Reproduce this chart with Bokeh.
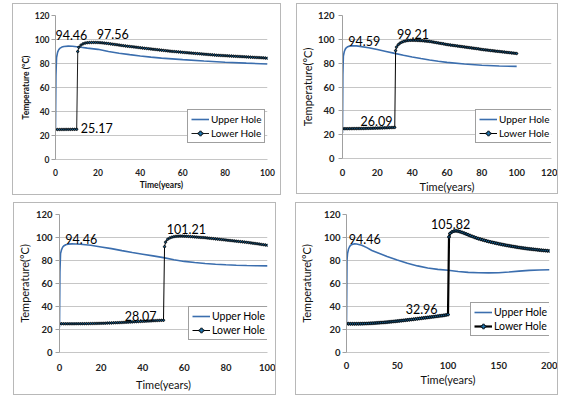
from bokeh.plotting import figure
from bokeh.models import Range1d, SingleIntervalTicker, Legend, LegendItem, Spacer
from bokeh.layouts import row, column
from bokeh.embed import file_html
from bokeh.resources import INLINE
from bokeh.core.properties import value

# ---------------- data ----------------
# Panel 1 (lower hole switched on at ~10 years)
p1_up_x = [0, 0.2, 0.5, 1, 1.5, 2, 3, 4, 6, 8, 10, 12, 15, 20, 25, 30, 35, 40, 45, 50, 60, 70, 80, 90, 100]
p1_up_y = [25, 70, 85, 89.5, 91.5, 92.6, 93.7, 94.2, 94.46, 94.4, 94.0, 93.5, 92.8, 91.8, 90.0, 88.6, 87.4, 86.3, 85.3, 84.5, 83.2, 82.1, 81.1, 80.3, 79.6]
p1_lo_x = list(range(0, 11)) + [10.5] + list(range(11, 101))
p1_lo_y = [25.0, 25.0, 25.0, 25.05, 25.05, 25.1, 25.1, 25.1, 25.15, 25.15, 25.17,
           90.0,
           93.5, 95.3, 96.4, 97.0, 97.3, 97.45, 97.52, 97.56, 97.55, 97.5,
           97.35, 97.2, 97.0, 96.8, 96.6, 96.35, 96.1, 95.85, 95.6, 95.35,
           95.1, 94.85, 94.6, 94.4, 94.2, 94.0, 93.8, 93.6, 93.35, 93.1,
           92.9, 92.7, 92.5, 92.3, 92.1, 91.9, 91.7, 91.5, 91.3, 91.1,
           90.9, 90.7, 90.5, 90.3, 90.1, 89.95, 89.8, 89.65, 89.5, 89.3,
           89.15, 89.0, 88.85, 88.7, 88.55, 88.4, 88.25, 88.1, 87.95, 87.8,
           87.65, 87.5, 87.35, 87.2, 87.05, 86.9, 86.8, 86.7, 86.6, 86.5,
           86.4, 86.3, 86.2, 86.1, 86.0, 85.9, 85.8, 85.7, 85.6, 85.5,
           85.4, 85.3, 85.2, 85.1, 85.0, 84.9, 84.8, 84.7, 84.55, 84.4]
p1_lab_x = [7.5, 27, 19.5]
p1_lab_y = [104, 105, 26]
p1_lab_t = ["94.46", "97.56", "25.17"]

# Panel 2 (lower hole switched on at ~30 years)
p2_up_x = [0, 0.2, 0.5, 1, 1.5, 2, 3, 4, 6, 8, 10, 15, 20, 25, 30, 35, 40, 45, 50, 55, 60, 70, 80, 90, 100]
p2_up_y = [21.5, 70, 86, 89.5, 91.5, 92.7, 93.8, 94.3, 94.59, 94.5, 94.1, 92.9, 91.4, 89.8, 88.2, 86.6, 85.2, 83.9, 82.7, 81.6, 80.7, 79.3, 78.3, 77.6, 77.3]
p2_lo_x = list(range(0, 31)) + [30.5] + list(range(31, 101))
p2_lo_y = [25.0, 25.0, 25.0, 25.0, 25.05, 25.05, 25.1, 25.1, 25.1, 25.15, 25.15,
           25.2, 25.2, 25.25, 25.3, 25.3, 25.35, 25.4, 25.45, 25.5, 25.5,
           25.55, 25.6, 25.65, 25.7, 25.75, 25.8, 25.85, 25.95, 26.0, 26.09,
           90.5,
           93.5, 95.5, 96.8, 97.6, 98.2, 98.6, 98.9, 99.1, 99.2, 99.21,
           99.2, 99.15, 99.1, 99.0, 98.9, 98.8, 98.65, 98.5, 98.35, 98.2,
           97.95, 97.7, 97.45, 97.2, 96.95, 96.7, 96.45, 96.2, 95.9, 95.6,
           95.4, 95.2, 95.0, 94.8, 94.6, 94.4, 94.2, 94.0, 93.8, 93.6,
           93.4, 93.2, 93.0, 92.8, 92.6, 92.4, 92.2, 92.0, 91.75, 91.5,
           91.3, 91.15, 91.0, 90.8, 90.6, 90.45, 90.3, 90.1, 89.95, 89.8,
           89.6, 89.45, 89.3, 89.1, 88.95, 88.8, 88.6, 88.45, 88.3, 88.1]
p2_lab_x = [12.5, 40.5, 19.5]
p2_lab_y = [98.5, 104.5, 31.5]
p2_lab_t = ["94.59", "99.21", "26.09"]

# Panel 3 (lower hole switched on at ~50 years)
p3_up_x = [0, 0.2, 0.5, 1, 1.5, 2, 3, 4, 6, 8, 10, 15, 20, 25, 30, 35, 40, 45, 50, 55, 60, 65, 70, 75, 80, 85, 90, 95, 100]
p3_up_y = [22, 70, 86, 89.5, 91.5, 92.6, 93.7, 94.2, 94.46, 94.4, 94.1, 93.2, 91.8, 90.3, 88.6, 87.0, 85.5, 84.0, 82.5, 80.6, 79.2, 78.2, 77.4, 76.8, 76.3, 75.9, 75.6, 75.4, 75.3]
p3_lo_x = list(range(0, 51)) + [50.5] + list(range(51, 101))
p3_lo_y = [25.0, 25.0, 24.95, 24.95, 24.95, 24.95, 24.95, 24.95, 25.0, 25.0, 25.0,
           25.05, 25.05, 25.1, 25.1, 25.15, 25.2, 25.25, 25.3, 25.35, 25.4,
           25.45, 25.5, 25.6, 25.65, 25.7, 25.8, 25.85, 25.95, 26.0, 26.1,
           26.2, 26.3, 26.4, 26.5, 26.6, 26.7, 26.8, 26.9, 27.0, 27.1,
           27.2, 27.3, 27.4, 27.5, 27.6, 27.7, 27.8, 27.9, 28.0, 28.07,
           92.0,
           96.0, 98.5, 99.6, 100.3, 100.7, 101.0, 101.15, 101.21, 101.2, 101.15,
           101.05, 100.95, 100.8, 100.65, 100.5, 100.35, 100.2, 100.05, 99.95, 99.8,
           99.6, 99.4, 99.2, 99.0, 98.8, 98.6, 98.4, 98.2, 98.0, 97.8,
           97.6, 97.4, 97.2, 97.0, 96.8, 96.6, 96.4, 96.2, 96.0, 95.8,
           95.55, 95.3, 95.05, 94.8, 94.55, 94.3, 94.0, 93.75, 93.5, 93.2]
p3_lab_x = [10.5, 61, 39]
p3_lab_y = [99, 107.5, 32]
p3_lab_t = ["94.46", "101.21", "28.07"]

# Panel 4 (lower hole switched on at ~100 years, 200-year run)
p4_up_x = [0, 0.5, 1, 2, 3, 4, 6, 8, 10, 15, 20, 25, 30, 40, 50, 60, 70, 80, 90, 100, 110, 120, 130, 140, 150, 160, 170, 180, 190, 200]
p4_up_y = [24, 80, 86, 90, 92, 93.3, 94.2, 94.46, 94.3, 93.2, 91.2, 88.7, 87.0, 83.5, 80.4, 77.6, 75.3, 73.5, 72.3, 71.5, 70.5, 69.7, 69.3, 69.2, 69.4, 70.0, 70.8, 71.4, 71.8, 72.0]
p4_lo_x = list(range(0, 101, 2)) + [101] + list(range(102, 201, 2))
p4_lo_y = [25.0, 25.0, 24.95, 24.95, 24.95, 25.0, 25.0, 25.05, 25.1, 25.15, 25.2,
           25.3, 25.4, 25.5, 25.6, 25.75, 25.85, 26.0, 26.1, 26.25, 26.4,
           26.6, 26.75, 26.95, 27.1, 27.3, 27.5, 27.7, 27.9, 28.1, 28.3,
           28.5, 28.7, 28.9, 29.15, 29.35, 29.6, 29.8, 30.05, 30.25, 30.5,
           30.7, 30.95, 31.15, 31.4, 31.6, 31.85, 32.05, 32.3, 32.6, 32.96,
           100.5,
           103.5, 104.9, 105.6, 105.82,
           105.5, 105.0, 104.4, 103.7, 103.0, 102.3, 101.6, 100.9, 100.2, 99.6,
           99.0, 98.5, 98.0, 97.5, 97.0, 96.5, 96.1, 95.7, 95.3, 94.9,
           94.5, 94.15, 93.8, 93.45, 93.1, 92.8, 92.5, 92.2, 91.9, 91.6,
           91.3, 91.05, 90.8, 90.55, 90.3, 90.1, 89.9, 89.7, 89.5, 89.3,
           89.1, 88.9, 88.75, 88.6, 88.45, 88.3]
p4_lab_x = [18, 102.5, 74]
p4_lab_y = [98.5, 112, 37.5]
p4_lab_t = ["94.46", "105.82", "32.96"]

series_names = ["Upper Hole", "Lower Hole"]

# ---------------- style ----------------
FONT = "Lato"
BLUE = "#3b6eae"
GRID = "#c6c6c6"
BORDER = "#b8b8b8"


def make_panel(width, height, mb, xmax, xstep, up_x, up_y, lo_x, lo_y,
               lab_x, lab_y, lab_t, leg_xy, small, ylabel, lo_w, mk, leg_fs,
               xs, ys):
    p = figure(width=width, height=height, x_range=Range1d(0, xmax), y_range=Range1d(0, 120),
               output_backend="svg", toolbar_location=None,
               min_border_left=mb[0], min_border_right=mb[1], min_border_top=mb[2], min_border_bottom=mb[3])
    p.styles = {"border": "1px solid " + BORDER}
    p.outline_line_color = None
    p.background_fill_color = "white"
    p.border_fill_color = "white"
    p.xgrid.visible = False
    p.ygrid.grid_line_color = GRID
    p.ygrid.grid_line_width = 1

    p.xaxis.ticker = SingleIntervalTicker(interval=xstep)
    p.yaxis.ticker = SingleIntervalTicker(interval=20)
    p.xaxis.minor_tick_line_color = None
    p.yaxis.minor_tick_line_color = None
    p.xaxis.major_tick_line_color = None
    p.xaxis.major_tick_out = 0
    p.xaxis.major_tick_in = 0
    p.yaxis.major_tick_line_color = "#a0a0a0"
    p.yaxis.major_tick_out = 4
    p.yaxis.major_tick_in = 0
    p.xaxis.axis_line_color = GRID
    p.yaxis.axis_line_color = "#a0a0a0"

    tick_fs = "8.5px" if small else "9.5px"
    lab_fs = "8.5px" if small else "11px"
    lab_style = "bold" if small else "normal"
    for ax in (p.xaxis, p.yaxis):
        ax.major_label_text_font = FONT
        ax.major_label_text_font_size = tick_fs
        ax.major_label_text_font_style = "bold"
        ax.major_label_text_color = "#222222"
        ax.axis_label_text_font = FONT
        ax.axis_label_text_font_size = lab_fs
        ax.axis_label_text_font_style = lab_style
        ax.axis_label_text_color = "#111111"
    p.xaxis.axis_label = "Time(years)"
    p.yaxis.axis_label = ylabel
    p.xaxis.major_label_standoff = xs[0]
    p.xaxis.axis_label_standoff = xs[1]
    p.yaxis.major_label_standoff = ys[0]
    p.yaxis.axis_label_standoff = ys[1]

    r_up = p.line(up_x, up_y, line_color=BLUE, line_width=1.6)
    r_lo = p.line(lo_x, lo_y, line_color="black", line_width=lo_w)
    r_lo_m = p.scatter(lo_x, lo_y, marker="plus", size=mk, line_color="black", line_width=0.7)

    p.text(x=lab_x, y=lab_y, text=lab_t, text_font=value(FONT), text_font_size="12.5px",
           text_align="center", text_baseline="alphabetic", text_color="black")

    leg = Legend(items=[LegendItem(label=series_names[0], renderers=[r_up]),
                        LegendItem(label=series_names[1], renderers=[r_lo, r_lo_m])],
                 location=leg_xy)
    leg.label_text_font = FONT
    leg.label_text_font_size = leg_fs
    leg.label_text_color = "black"
    leg.glyph_width = 18
    leg.glyph_height = 12
    leg.label_height = 12
    leg.label_standoff = 2
    leg.padding = 3
    leg.spacing = 2
    leg.margin = 0
    leg.border_line_color = "#404040"
    leg.border_line_width = 1
    leg.background_fill_color = "white"
    leg.background_fill_alpha = 1
    p.add_layout(leg, "center")
    return p


p1 = make_panel(269, 192, (42, 15, 11, 35), 100, 20, p1_up_x, p1_up_y, p1_lo_x, p1_lo_y,
                p1_lab_x, p1_lab_y, p1_lab_t, (132, 16), True, "Temperature (°C)", 0.9, 2.5, "10px",
                (5, 1), (2, 1))
p2 = make_panel(262, 191, (43, 8, 11, 36), 120, 20, p2_up_x, p2_up_y, p2_lo_x, p2_lo_y,
                p2_lab_x, p2_lab_y, p2_lab_t, (133, 15), False, "Temperature(°C)", 1.0, 2.5, "10px",
                (6, 1), (4, 1))
p3 = make_panel(263, 193, (43, 10, 11, 44), 100, 20, p3_up_x, p3_up_y, p3_lo_x, p3_lo_y,
                p3_lab_x, p3_lab_y, p3_lab_t, (129, 12), False, "Temperature(°C)", 1.0, 2.5, "10.5px",
                (7, 4), (3, 2))
p4 = make_panel(263, 193, (44, 10, 11, 38), 200, 50, p4_up_x, p4_up_y, p4_lo_x, p4_lo_y,
                p4_lab_x, p4_lab_y, p4_lab_t, (124, 16), False, "Temperature(°C)", 2.2, 3, "10.5px",
                (5, 1), (2, 8))

row1 = row(Spacer(width=12, height=1), p1, Spacer(width=15, height=1), p2)
row2 = row(Spacer(width=13, height=1), p3, Spacer(width=19, height=1), p4)
layout = column(Spacer(width=1, height=3), row1, Spacer(width=1, height=7), row2)

open("out.html", "w").write(file_html(layout, INLINE))
